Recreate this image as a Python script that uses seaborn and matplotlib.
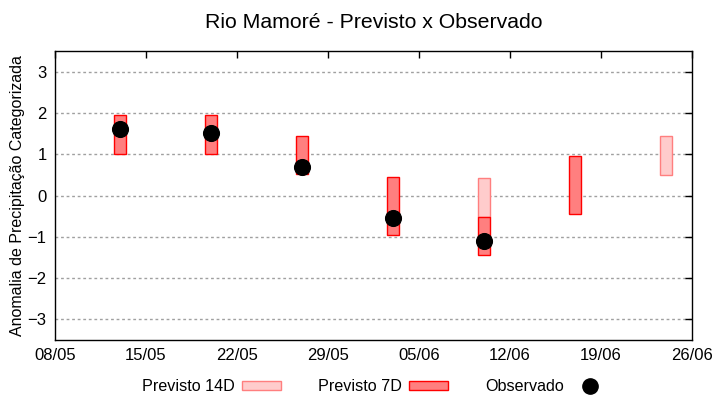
import pandas as pd
import matplotlib.pyplot as plt
import matplotlib.dates as mdates
from matplotlib.patches import Patch
from matplotlib.lines import Line2D
import seaborn as sns

sns.set_theme(style="white")
plt.rcParams['font.family'] = ['Liberation Sans', 'DejaVu Sans']
plt.rcParams['text.color'] = 'black'
plt.rcParams['axes.labelcolor'] = 'black'

# =========================
# Dados
# =========================
dias_7d = ['2024-05-13', '2024-05-20', '2024-05-27', '2024-06-03', '2024-06-10', '2024-06-17']
min_7d = [1.0, 1.0, 0.51, -0.95, -1.45, -0.44]
max_7d = [1.95, 1.95, 1.44, 0.44, -0.51, 0.95]

dias_14d = ['2024-06-10', '2024-06-24']
min_14d = [-0.51, 0.50]
max_14d = [0.43, 1.44]

dias_obs = ['2024-05-13', '2024-05-20', '2024-05-27', '2024-06-03', '2024-06-10']
obs = [1.61, 1.51, 0.68, -0.54, -1.10]

d7 = pd.DataFrame({'data': pd.to_datetime(dias_7d), 'min': min_7d, 'max': max_7d})
d14 = pd.DataFrame({'data': pd.to_datetime(dias_14d), 'min': min_14d, 'max': max_14d})
dobs = pd.DataFrame({'data': pd.to_datetime(dias_obs), 'obs': obs})

cor_14d, borda_14d = '#FFCCCC', '#FF7F7F'
cor_7d, borda_7d = '#FF7F7F', '#FF0000'

# =========================
# Grafico
# =========================
fig, ax = plt.subplots(figsize=(7.2, 4), dpi=100)
fig.subplots_adjust(left=0.0764, right=0.961, top=0.8725, bottom=0.15)

ax.bar(d14['data'], d14['max'] - d14['min'], bottom=d14['min'], width=0.95,
       color=cor_14d, edgecolor=borda_14d, linewidth=1.0, zorder=2)
ax.bar(d7['data'], d7['max'] - d7['min'], bottom=d7['min'], width=0.95,
       color=cor_7d, edgecolor=borda_7d, linewidth=1.0, zorder=3)
sns.scatterplot(data=dobs, x='data', y='obs', ax=ax, color='black', s=130,
                edgecolor='black', zorder=4, legend=False)

ax.set_xlim(pd.Timestamp('2024-05-08'), pd.Timestamp('2024-06-26'))
ax.set_ylim(-3.5, 3.5)
ax.set_yticks(range(-3, 4))
ax.set_xticks(pd.date_range('2024-05-08', '2024-06-26', freq='7D'))
ax.xaxis.set_major_formatter(mdates.DateFormatter('%d/%m'))

ax.yaxis.grid(True, linestyle=(0, (2, 2)), color='#A0A0A0', linewidth=1.0)
ax.set_axisbelow(True)
for s in ax.spines.values():
    s.set_color('black')
    s.set_linewidth(1.0)
ax.tick_params(direction='in', length=5, width=1, top=True, right=True,
               labelsize=12, colors='black', pad=6)

ax.set_xlabel('')
ax.set_ylabel('Anomalia de Precipitação Categorizada', fontsize=11.5, color='black', labelpad=2)
fig.suptitle('Rio Mamoré - Previsto x Observado', fontsize=15.3, x=0.519, y=0.968, color='black')

handles = [
    Patch(facecolor=cor_14d, edgecolor=borda_14d, linewidth=1.0),
    Patch(facecolor=cor_7d, edgecolor=borda_7d, linewidth=1.0),
    Line2D([], [], marker='o', color='black', linestyle='none', markersize=11),
]
fig.legend(handles, ['Previsto 14D', 'Previsto 7D', 'Observado'], loc='center',
           bbox_to_anchor=(0.522, 0.033), ncol=3, frameon=False, markerfirst=False,
           fontsize=11.6, handlelength=2.4, handleheight=0.4, columnspacing=2.3,
           handletextpad=0.45, labelcolor='black')

plt.savefig('out.png', dpi=100)
